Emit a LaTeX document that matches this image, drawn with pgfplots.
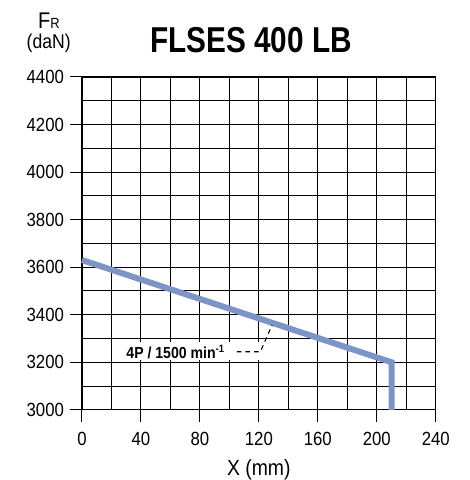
\documentclass[border=0pt]{standalone}
\usepackage{fontspec}
\setmainfont{Liberation Sans}[FakeStretch=0.88]
\usepackage{graphicx}
\usepackage{pgfplots}
\pgfplotsset{compat=1.18}
\definecolor{lineblue}{RGB}{125,148,198}
\begin{document}
\begin{tikzpicture}
\begin{axis}[
  scale only axis, width=265.5pt, height=249.75pt,
  xmin=0, xmax=240, ymin=3000, ymax=4400,
  xtick={0,40,...,240}, ytick={3000,3200,...,4400},
  minor xtick={20,60,...,220}, minor ytick={3100,3300,...,4300},
  grid=both,
  grid style={black, line width=0.75pt},
  minor grid style={black, line width=0.75pt},
  axis line style={black, line width=0.9pt},
  tick align=outside, major tick length=9pt, minor tick length=0pt,
  tick style={black, line width=0.8pt},
  tick pos=left,
  /pgf/number format/assume math mode=true,
  /pgf/number format/set thousands separator={},
  tick label style={font=\fontsize{14.3}{16}\selectfont},
  xticklabel style={yshift=-4pt},
  yticklabel style={xshift=-1pt},
  clip=false,
]
\fill[white] (axis cs:30,3208) rectangle (axis cs:121,3286);
\addplot[lineblue, line width=4.5pt, line join=miter] coordinates {(0,3630) (210,3200) (210,3000)};
\node[font=\bfseries\fontsize{12}{14}\selectfont, inner sep=0pt] at (axis cs:63.5,3244) {4P / 1500 min\textsuperscript{-1}};
\draw[black, line width=0.8pt, dash pattern=on 3.5pt off 3pt] (axis cs:105,3244) -- (axis cs:121,3244) -- (axis cs:129,3357);
\node[font=\bfseries\fontsize{27}{30}\selectfont, inner sep=0pt] at (axis cs:114.6,4400) [yshift=28pt] {\scalebox{0.94}[1]{FLSES 400 LB}};
\node[inner sep=0pt, anchor=base] at (rel axis cs:0,1) [xshift=-24.75pt, yshift=36.5pt]
  {{\fontsize{17}{18}\selectfont F}{\fontsize{11}{13}\selectfont R}};
\node[inner sep=0pt, anchor=base] at (rel axis cs:0,1) [xshift=-25pt, yshift=21pt]
  {\fontsize{15}{17}\selectfont (daN)};
\node[font=\fontsize{16.5}{18}\selectfont, inner sep=0pt] at (rel axis cs:0.5,0) [yshift=-45pt] {X (mm)};
\coordinate (ll) at (rel axis cs:0,0);
\coordinate (ur) at (rel axis cs:1,1);
\end{axis}
\path ([shift={(-61.5pt,-52.5pt)}]ll) rectangle ([shift={(25.5pt,57.75pt)}]ur);
\end{tikzpicture}
\end{document}
